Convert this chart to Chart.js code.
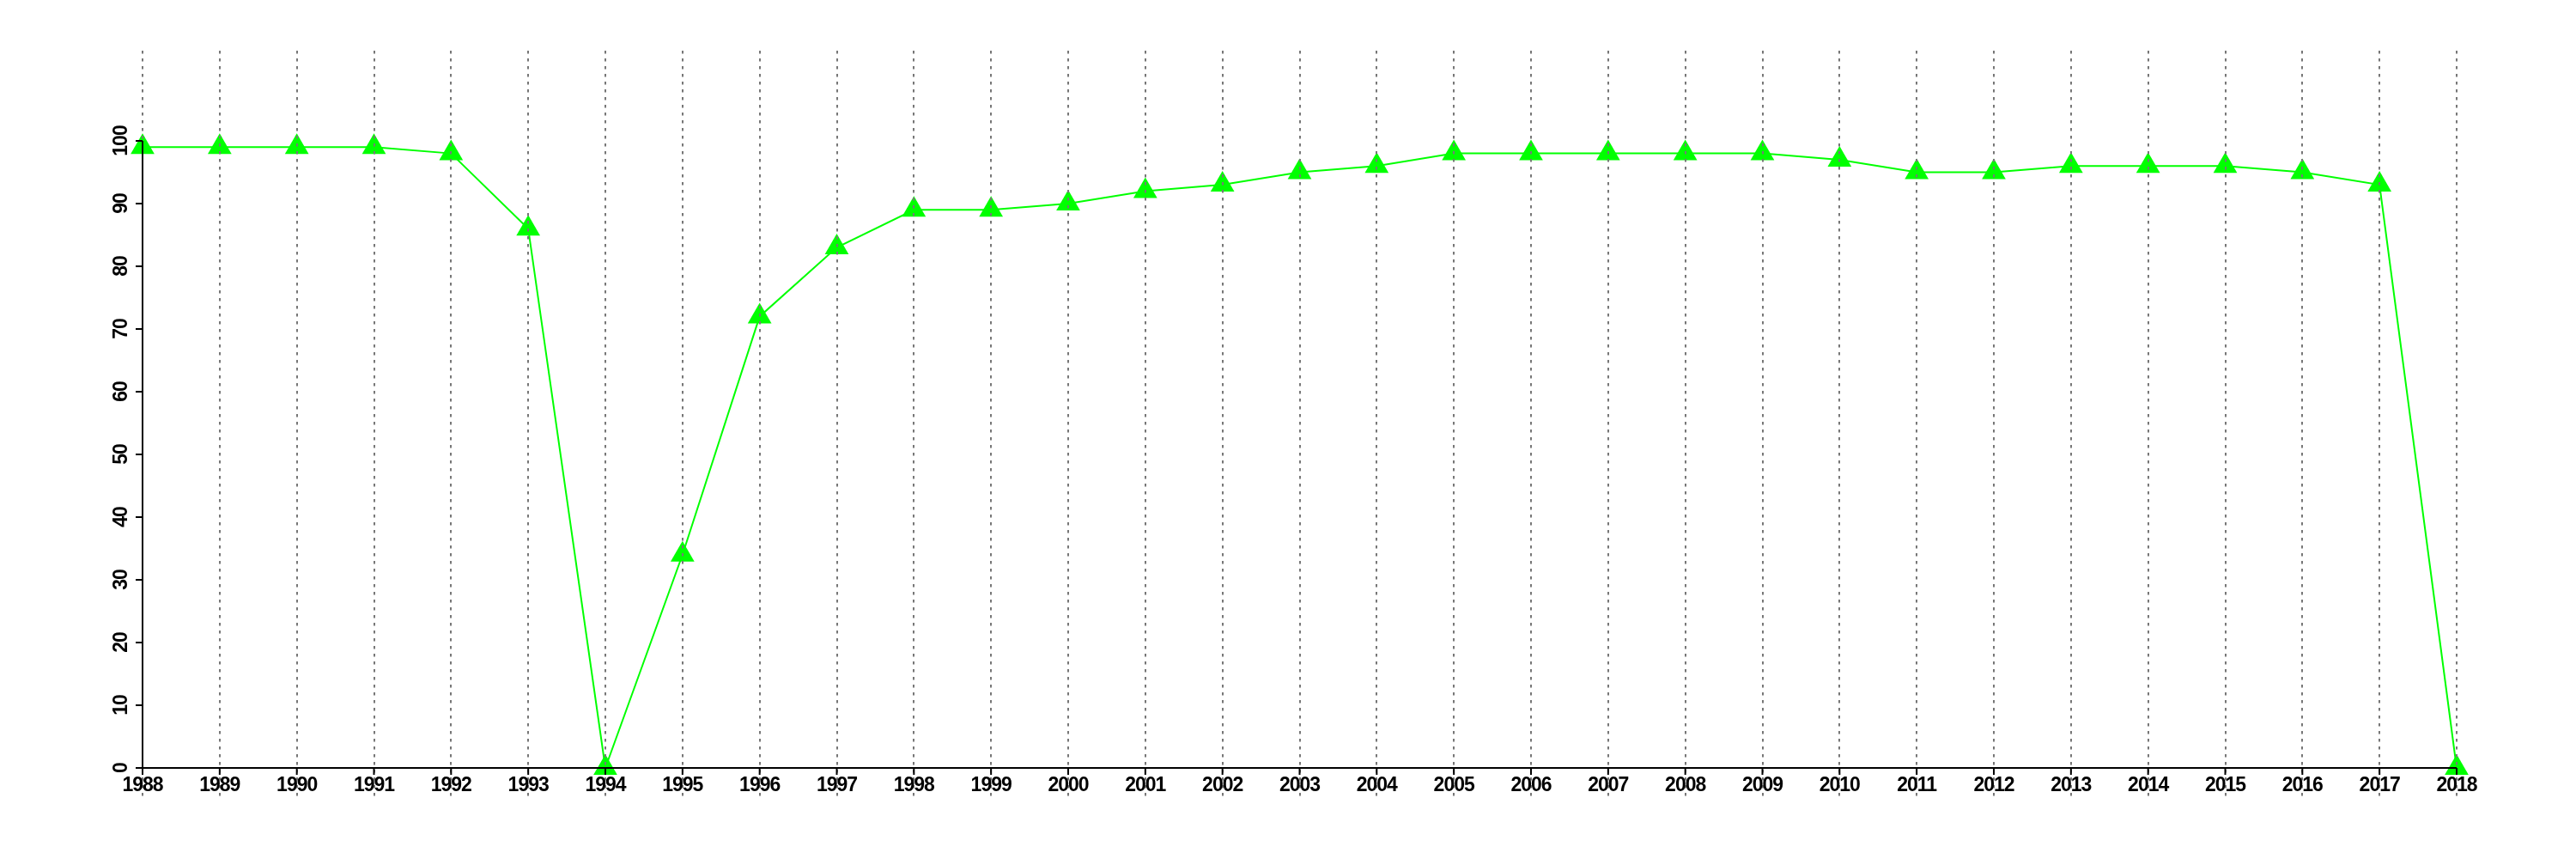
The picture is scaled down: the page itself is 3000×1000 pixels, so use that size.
<!DOCTYPE html>
<html>
<head>
<meta charset="utf-8">
<script src="https://cdn.jsdelivr.net/npm/chart.js@4/dist/chart.umd.min.js"></script>
<style>
  html, body { margin: 0; padding: 0; background: #ffffff; }
  #chart { display: block; }
</style>
</head>
<body>
<canvas id="chart" width="3000" height="1000"></canvas>
<script>
// data
const years = ['1988', '1989', '1990', '1991', '1992', '1993', '1994', '1995', '1996', '1997',
    '1998', '1999', '2000', '2001', '2002', '2003', '2004', '2005', '2006', '2007',
    '2008', '2009', '2010', '2011', '2012', '2013', '2014', '2015', '2016', '2017', '2018'];
const values = [99, 99, 99, 99, 98, 86, 0, 34, 72, 83,
    89, 89, 90, 92, 93, 95, 96, 98, 98, 98,
    98, 98, 97, 95, 95, 96, 96, 96, 95, 93, 0];
const yTicks = [0, 10, 20, 30, 40, 50, 60, 70, 80, 90, 100];

const FONT = 'bold 23px "Liberation Sans", Arial, sans-serif';

// R-style axes and dotted vertical grid, drawn from the chart's scales
const rAxesPlugin = {
    id: 'rAxes',
    beforeDraw(chart) {
        const ctx = chart.ctx;
        ctx.save();
        ctx.fillStyle = '#ffffff';
        ctx.fillRect(0, 0, chart.width, chart.height);
        ctx.restore();
    },
    afterDatasetsDraw(chart) {
        const { ctx, scales: { x, y } } = chart;
        ctx.save();

        // grid lines
        ctx.strokeStyle = '#777777';
        ctx.lineWidth = 2;
        ctx.setLineDash([3.5, 5.5]);
        years.forEach((yr, i) => {
            const px = Math.round(x.getPixelForValue(i));
            ctx.beginPath();
            ctx.moveTo(px, 59);
            ctx.lineTo(px, 928);
            ctx.stroke();
        });
        ctx.setLineDash([]);

        // axis lines
        ctx.strokeStyle = '#000000';
        ctx.lineWidth = 2;
        const x0 = x.getPixelForValue(0);
        const x1 = x.getPixelForValue(years.length - 1);
        const yBottom = y.getPixelForValue(yTicks[0]);
        const yTop = y.getPixelForValue(yTicks[yTicks.length - 1]);
        ctx.beginPath();
        ctx.moveTo(x0, yTop);
        ctx.lineTo(x0, yBottom);
        ctx.lineTo(x1, yBottom);
        ctx.stroke();

        // y ticks + rotated labels
        ctx.font = FONT;
        ctx.letterSpacing = '-1px';
        ctx.fillStyle = '#000000';
        yTicks.forEach(v => {
            const py = y.getPixelForValue(v);
            ctx.beginPath();
            ctx.moveTo(x0, py);
            ctx.lineTo(x0 - 8, py);
            ctx.stroke();
            ctx.save();
            ctx.translate(x0 - 24, py);
            ctx.rotate(-Math.PI / 2);
            ctx.textAlign = 'center';
            ctx.textBaseline = 'middle';
            ctx.fillText(String(v), 0, 0);
            ctx.restore();
        });

        // x ticks + labels
        ctx.textAlign = 'center';
        ctx.textBaseline = 'top';
        years.forEach((yr, i) => {
            const px = x.getPixelForValue(i);
            ctx.beginPath();
            ctx.moveTo(px, yBottom);
            ctx.lineTo(px, yBottom + 8);
            ctx.stroke();
            ctx.fillText(yr, px, yBottom + 9);
        });

        ctx.restore();
    }
};

const ctx = document.getElementById('chart').getContext('2d');
new Chart(ctx, {
    type: 'line',
    data: {
        labels: years,
        datasets: [{
            data: values,
            borderColor: '#00ff00',
            backgroundColor: '#00ff00',
            borderWidth: 2,
            pointStyle: 'triangle',
            pointRadius: 16,
            pointBorderWidth: 0,
            pointBackgroundColor: '#00ff00',
            tension: 0,
            clip: false
        }]
    },
    options: {
        responsive: false,
        devicePixelRatio: 1,
        animation: false,
        layout: {
            padding: { left: 166, right: 139, top: 164, bottom: 106 }
        },
        plugins: {
            legend: { display: false },
            tooltip: { enabled: false }
        },
        scales: {
            x: { type: 'category', display: false, offset: false },
            y: { type: 'linear', display: false, min: 0, max: 100 }
        }
    },
    plugins: [rAxesPlugin]
});
</script>
</body>
</html>
